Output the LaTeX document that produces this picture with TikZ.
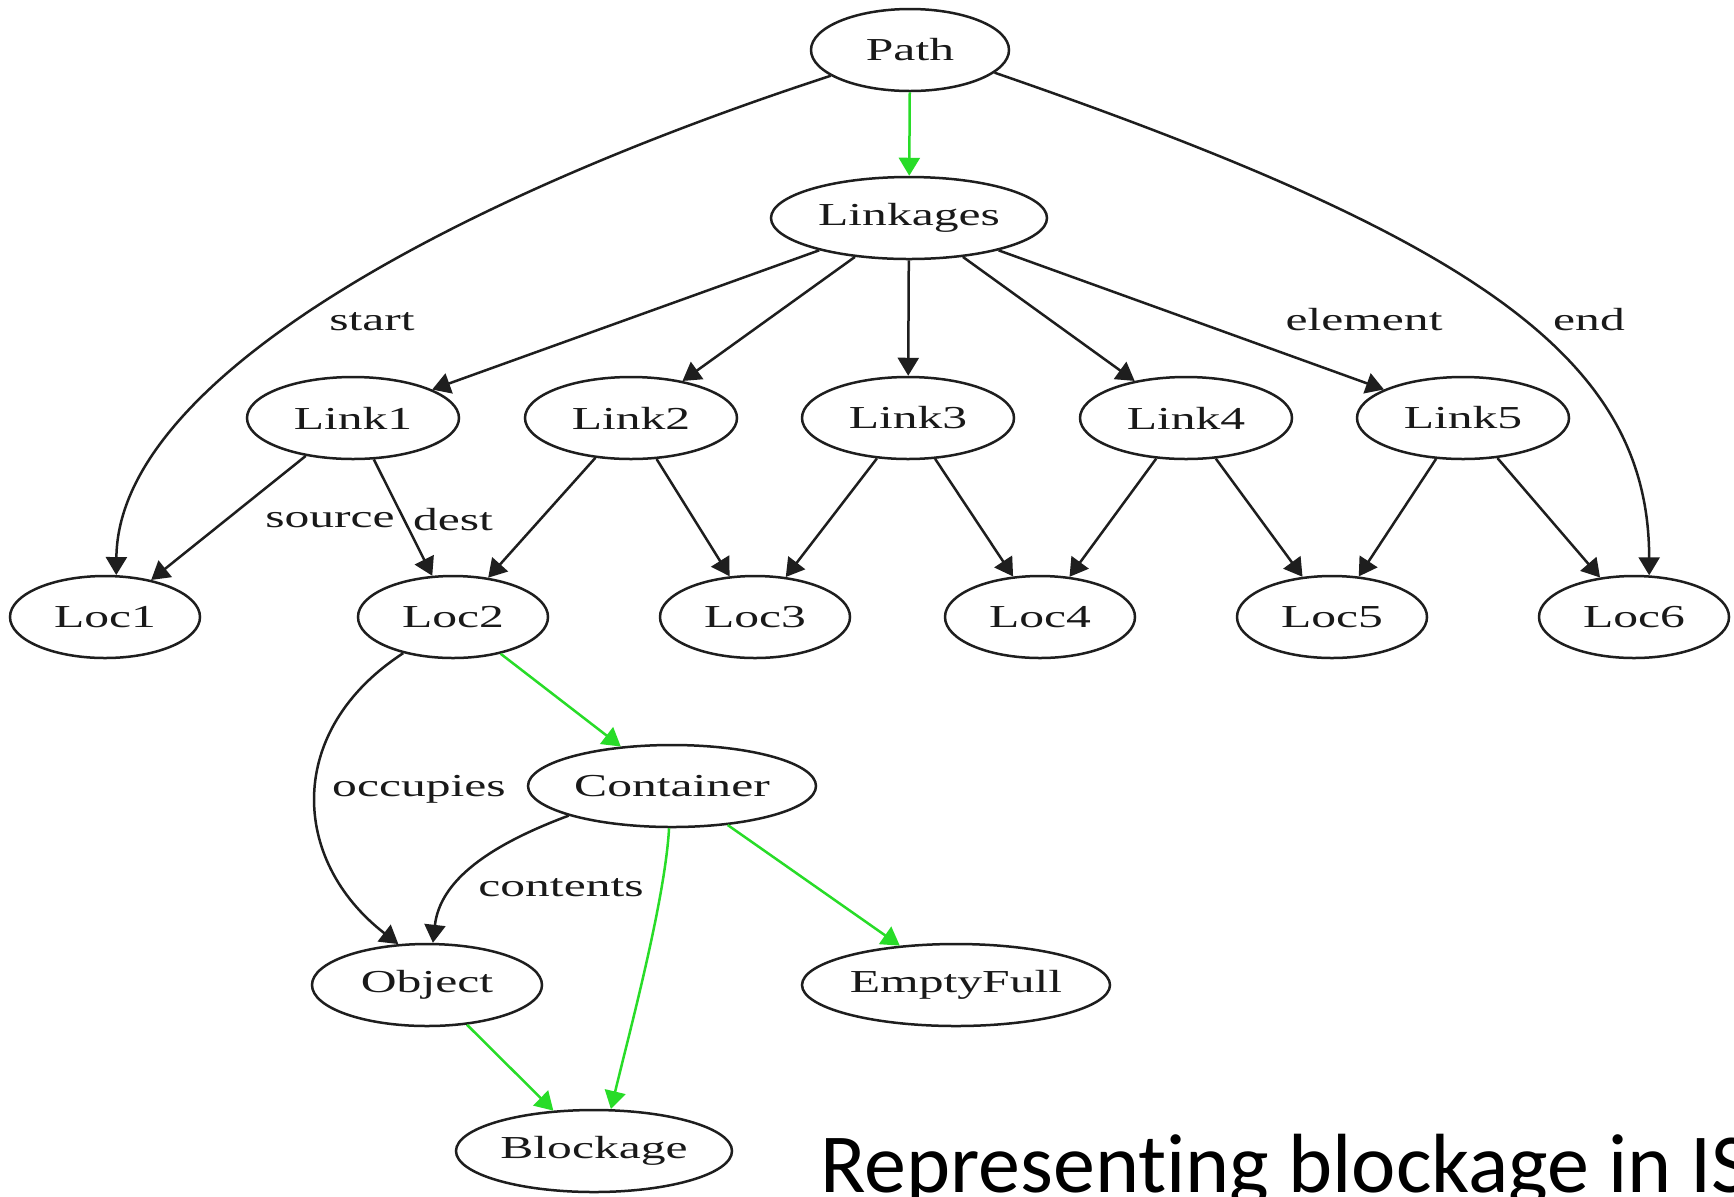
\documentclass[tikz,border=0pt]{standalone}
\usepackage{fontspec}
\setmainfont{Liberation Serif}
\newfontfamily\gvfont[FakeStretch=1.55]{Liberation Serif}
\newfontfamily\titlefont[Ligatures=NoCommon]{Carlito}
\usetikzlibrary{shapes.geometric,arrows.meta}
\definecolor{linec}{RGB}{30,30,30}
\definecolor{textc}{RGB}{25,25,25}
\definecolor{greenc}{RGB}{40,220,40}
\begin{document}
\begin{tikzpicture}[x=0.5pt,y=-0.5pt,
  nd/.style={ellipse, draw=linec, line width=1.25pt, inner sep=0pt,
    minimum height=41pt, minimum width=#1,
    font={\gvfont\fontsize{16pt}{19pt}\selectfont}, text=textc},
  lbl/.style={inner sep=0pt, font={\gvfont\fontsize{16pt}{19pt}\selectfont}, text=textc},
  arr/.style={draw=linec, line width=1.25pt, -{Triangle[length=9pt,width=10.5pt]}},
  garr/.style={draw=greenc, line width=1.25pt, -{Triangle[length=9pt,width=10.5pt]}}
]
\path[fill=white] (0,0) rectangle (1734,1196);
\useasboundingbox (0,0) rectangle (1734,1196);

% nodes
\node[nd=99pt]  (Path)     at (910,50)   {Path};
\node[nd=138pt] (Linkages) at (909,218)  {Linkages};
\node[nd=106pt] (Link1) at (353,418)  {Link1};
\node[nd=106pt] (Link2) at (631,418)  {Link2};
\node[nd=106pt] (Link3) at (908,418)  {Link3};
\node[nd=106pt] (Link4) at (1186,418) {Link4};
\node[nd=106pt] (Link5) at (1463,418) {Link5};
\node[nd=95pt] (Loc1) at (105,617)  {Loc1};
\node[nd=95pt] (Loc2) at (453,617)  {Loc2};
\node[nd=95pt] (Loc3) at (755,617)  {Loc3};
\node[nd=95pt] (Loc4) at (1040,617) {Loc4};
\node[nd=95pt] (Loc5) at (1332,617) {Loc5};
\node[nd=95pt] (Loc6) at (1634,617) {Loc6};
\node[nd=144pt] (Container) at (672,786) {Container};
\node[nd=115pt] (Object)    at (427,985) {Object};
\node[nd=154pt] (EmptyFull) at (956,985) {EmptyFull};
\node[nd=138pt] (Blockage)  at (594,1151) {Blockage};

% edges
\draw[garr] (Path) -- (Linkages);
\draw[arr] (Path.198) .. controls (450,200) and (118,380) .. (Loc1.75);
\draw[arr] (Path.345) .. controls (1480,240) and (1649,360) .. (Loc6.70);
\draw[arr] (Linkages) -- (Link1);
\draw[arr] (Linkages) -- (Link2);
\draw[arr] (Linkages) -- (Link3);
\draw[arr] (Linkages) -- (Link4);
\draw[arr] (Linkages) -- (Link5);
\draw[arr] (Link1) -- (Loc1);
\draw[arr] (Link1) -- (Loc2);
\draw[arr] (Link2) -- (Loc2);
\draw[arr] (Link2) -- (Loc3);
\draw[arr] (Link3) -- (Loc3);
\draw[arr] (Link3) -- (Loc4);
\draw[arr] (Link4) -- (Loc4);
\draw[arr] (Link4) -- (Loc5);
\draw[arr] (Link5) -- (Loc5);
\draw[arr] (Link5) -- (Loc6);
\draw[garr] (Loc2) -- (Container);
\draw[arr] (Loc2.216) .. controls (285,730) and (290,860) .. (Object.125);
\draw[arr] (Container.196) .. controls (490,845) and (440,880) .. (Object.82);
\draw[garr] (Container.266) .. controls (665,900) and (630,1030) .. (Blockage.68);
\draw[garr] (Container) -- (EmptyFull);
\draw[garr] (Object) -- (Blockage);

% edge labels
\node[lbl] (lstart)   at (372,322) {start};
\node[lbl] (lelement) at (1364,320) {element};
\node[lbl] (lend)     at (1589,320) {end};
\node[lbl] (lsource)  at (330,520) {source};
\node[lbl] (ldest)    at (453,520) {dest};
\node[lbl] (loccup)   at (419,789) {occupies};
\node[lbl] (lcont)    at (561,888) {contents};

% title
\node[anchor=base west, inner sep=0pt, text=black,
  font={\titlefont\fontsize{42pt}{48pt}\selectfont}] (title) at (820,1192)
  {Representing blockage in IS};
\end{tikzpicture}
\end{document}
